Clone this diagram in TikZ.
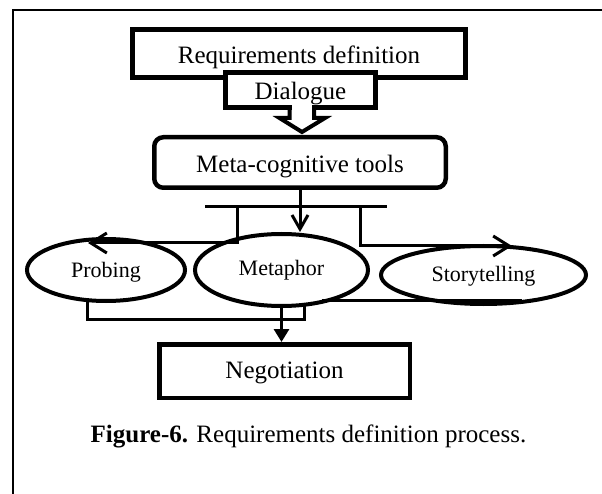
\documentclass[tikz,border=0pt]{standalone}
\usepackage{fontspec}
\setmainfont{Liberation Serif}
\usetikzlibrary{arrows.meta,shapes.geometric,calc}
\begin{document}
\begin{tikzpicture}[x=1pt,y=-1pt,
  bigfont/.style={font=\fontsize{25}{30}\selectfont},
  smallfont/.style={font=\fontsize{22}{26}\selectfont},
  sqbox/.style={draw,line width=5pt,fill=white,inner sep=0pt,bigfont},
  rbox/.style={draw,line width=4.5pt,fill=white,inner sep=0pt,rounded corners=9pt,bigfont},
  ell/.style={draw,ellipse,line width=4pt,inner sep=0pt,smallfont},
  conn/.style={line width=3pt},
  barb/.style={-{Straight Barb[length=16pt,width=20pt,line width=3pt]}},
  barbsm/.style={-{Straight Barb[length=14pt,width=16pt,line width=3pt]}},
  tri/.style={-{Triangle[length=13pt,width=15pt]}},
  blockarrow/.style={line width=4pt,line join=miter}
]
\useasboundingbox (0,0) rectangle (602,494);
\fill[white] (0,0) rectangle (602,494);
% frame
\draw[line width=2.5pt] (13,494) -- (13,10) -- (602,10);

% top boxes
\node[sqbox,minimum width=333pt,minimum height=48pt,text height=21pt,text depth=0pt] (req) at (299,53.5) {Requirements definition};
\node[sqbox,minimum width=150pt,minimum height=35pt,text height=20pt,text depth=0pt] (dlg) at (300.5,90) {Dialogue};
\node[rbox,minimum width=291.5pt,minimum height=50.5pt,text height=21pt,text depth=0pt] (meta) at (300,162.5) {Meta-cognitive tools};

% block arrow from Dialogue to Meta-cognitive tools
\fill[white] ($(dlg.south)+(-9,-4.5)$) rectangle ($(dlg.south)+(11,8)$);
\draw[blockarrow] ($(dlg.south)+(-11,-4)$) -- ++(0,12) -- ++(-10,0) -- ($(dlg.south)+(1.5,22)$) -- ($(dlg.south)+(24.5,8)$) -- ++(-11,0) -- ++(0,-12);

% ellipses
\node[ell,minimum width=158pt,minimum height=62pt,text height=16pt,text depth=2pt] (prb) at (106,270) {Probing};
\node[ell,minimum width=173pt,minimum height=72pt,text height=16pt,text depth=4pt] (mph) at (281.5,270) {Metaphor};
\node[ell,minimum width=205pt,minimum height=58pt,text height=16pt,text depth=4pt] (sty) at (483.5,275) {Storytelling};

% negotiation
\node[sqbox,line width=4.5pt,minimum width=250.5pt,minimum height=53.5pt,text height=17pt,text depth=3pt] (neg) at (284.5,371) {Negotiation};

% connectors
\coordinate (barL) at (205,207);
\coordinate (barR) at (387,207);
\coordinate (stemL) at (237,207);
\coordinate (stemR) at (360,207);
\coordinate (endL) at (88,243);
\coordinate (endR) at (512,246);
\draw[conn] (barL) -- (barR);
\draw[conn,barbsm] (meta.south) -- (meta.south |- mph.north);
\draw[conn,barb] (stemL) |- (endL);
\draw[conn,barb] (stemR) |- (endR);
\draw[conn] ($(prb.south)+(-19,-1)$) |- ($(mph.south)+(22.5,11)$) -- ($(mph.south)+(22.5,-2)$);
\draw[conn] ($(mph.south)+(40.5,-8)$) -- ($(sty.south)+(38.5,-6)$);
\draw[conn,tri] (mph.south) -- (mph.south |- neg.north);

% caption
\node[anchor=base,bigfont,inner sep=0pt] (cap) at (308.5,442) {\textbf{Figure-6.} Requirements definition process.};
\end{tikzpicture}
\end{document}
